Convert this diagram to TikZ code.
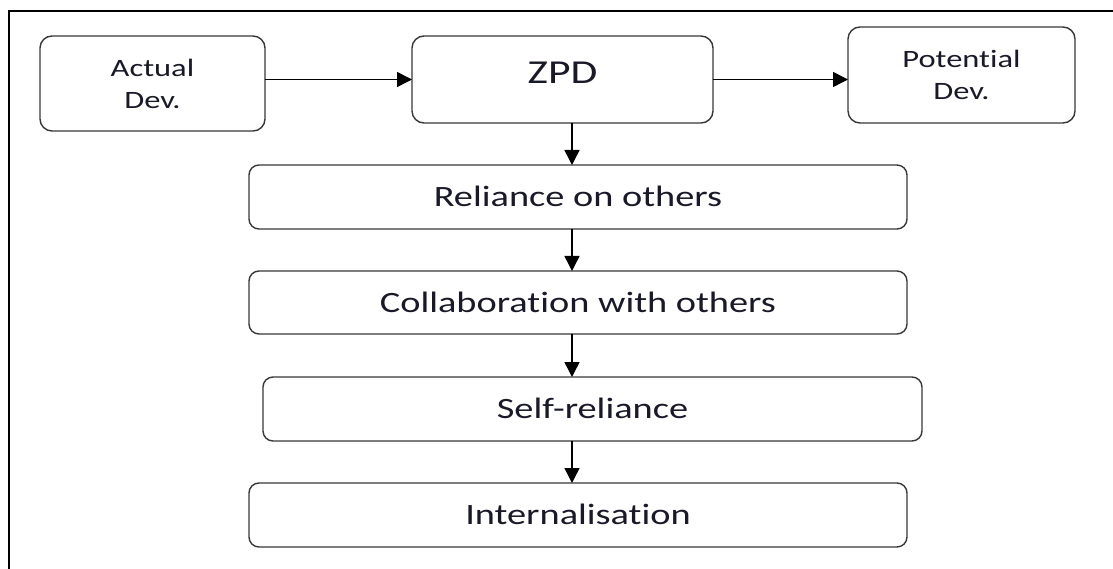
\documentclass[tikz,border=0pt]{standalone}
\usepackage{fontspec}
\setmainfont{Carlito}[FakeStretch=1.30, Ligatures={NoCommon}]
\usetikzlibrary{arrows.meta}
\definecolor{txtcol}{rgb}{0.10,0.10,0.16}
\definecolor{boxcol}{rgb}{0.22,0.22,0.22}
\tikzset{
  boxbase/.style={draw=boxcol, line width=1.4pt, rounded corners=12pt, inner sep=0pt, outer sep=0pt, text=txtcol},
  smallbox/.style={boxbase, font=\fontsize{25}{32}\selectfont, align=center},
  zpdbox/.style={boxbase, font=\fontsize{33.5}{40}\selectfont, text height=21.5pt, text depth=0pt},
  widebox/.style={boxbase, rounded corners=10pt, font=\fontsize{29.5}{35}\selectfont, text height=19pt, text depth=0pt},
  arr/.style={line width=1.5pt, draw=black, -{Triangle[length=15pt,width=15pt]}}
}
\begin{document}
\begin{tikzpicture}[x=1pt,y=-1pt]
\useasboundingbox (0,0) rectangle (1113,569);
\fill[white] (0,0) rectangle (1113,569);
% outer frame (cropped)
\draw[line width=1.6pt, black] (1113,11) -- (9,11) -- (9,569);

\node[smallbox, minimum width=225pt, minimum height=95pt] (ad) at (152.5,83.5) {Actual\\Dev.};
\node[zpdbox, minimum width=301pt, minimum height=87pt] (zpd) at (562.5,79.5) {\raisebox{7pt}[\height][\depth]{ZPD}};
\node[smallbox, minimum width=227pt, minimum height=96pt] (pd) at (961.5,75) {Potential\\Dev.};

\node[widebox, minimum width=658pt, minimum height=64pt] (rel) at (578,197) {Reliance on others};
\node[widebox, minimum width=658pt, minimum height=63pt] (col) at (578,302.5) {Collaboration with others};
\node[widebox, minimum width=659pt, minimum height=64pt] (self) at (592.5,409) {Self-reliance};
\node[widebox, minimum width=658pt, minimum height=64pt] (int) at (578,515) {Internalisation};

\coordinate (ax) at (572,0);
\draw[arr] (ad.east |- zpd.west) -- (zpd.west);
\draw[arr] (zpd.east) -- (zpd.east -| pd.west);
\draw[arr] (zpd.south -| ax) -- (rel.north -| ax);
\draw[arr] (rel.south -| ax) -- (col.north -| ax);
\draw[arr] (col.south -| ax) -- (self.north -| ax);
\draw[arr] (self.south -| ax) -- (int.north -| ax);
\end{tikzpicture}
\end{document}
